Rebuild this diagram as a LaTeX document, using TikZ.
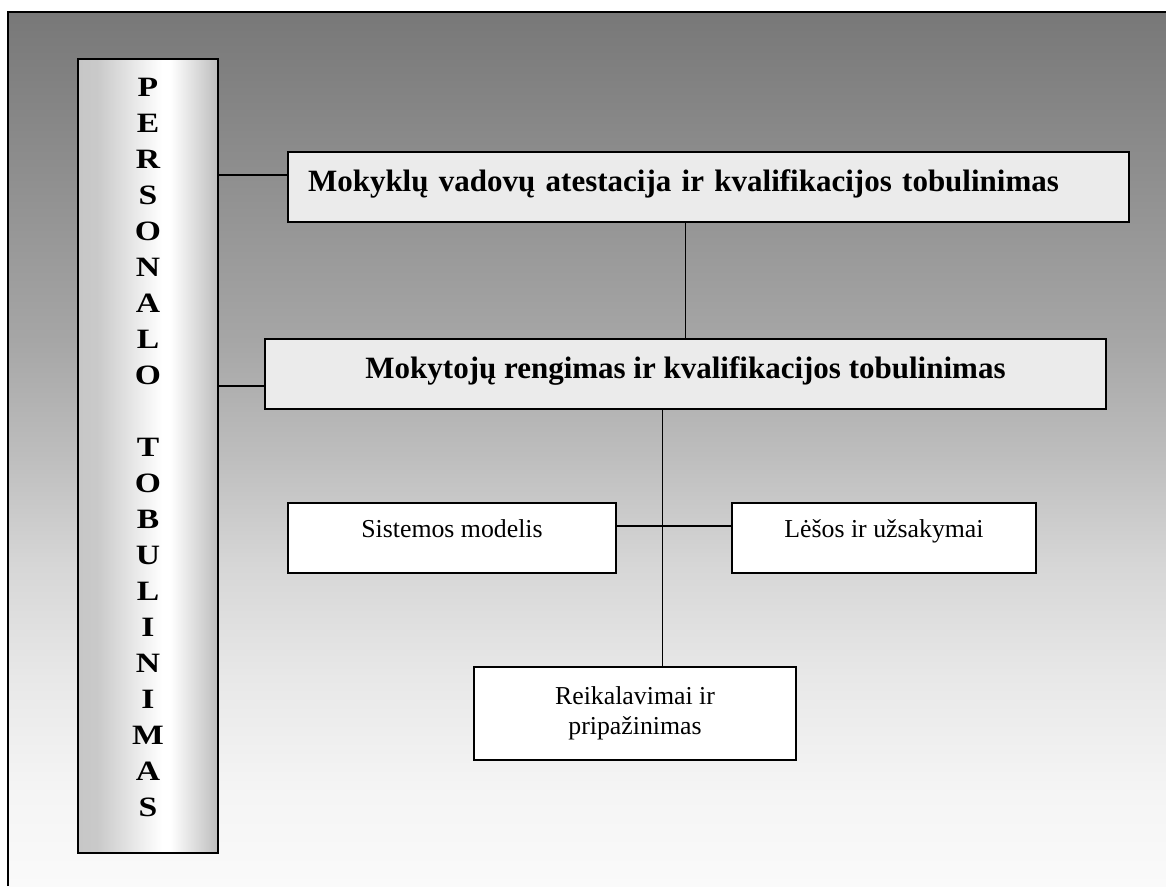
\documentclass[tikz,border=0pt]{standalone}
\usepackage{fontspec}
\setmainfont{Liberation Serif}
\newfontfamily\barfont[FakeStretch=1.2]{Liberation Serif}
\usetikzlibrary{calc}

\definecolor{boxgray}{HTML}{EBEBEB}
\pgfdeclarehorizontalshading{barshade}{100bp}{color(0bp)=(black!22); color(25bp)=(black!22); color(32bp)=(black!21); color(55bp)=(white); color(58bp)=(white); color(75bp)=(black!26); color(100bp)=(black!26)}
\pgfdeclareverticalshading{backshade}{100bp}{color(0bp)=(black!2); color(25bp)=(black!2); color(30.4bp)=(black!4); color(36.9bp)=(black!9); color(43.4bp)=(black!16); color(49.8bp)=(black!26); color(56.3bp)=(black!35); color(75bp)=(black!53); color(100bp)=(black!53)}

\begin{document}
\begin{tikzpicture}[x=1pt, y=-1pt,
            headbox/.style={
                draw,
                line width=1.6pt,
                fill=boxgray,
                inner ysep=0pt,
                text height=39pt,
                text depth=31pt,
                font=\fontsize{31}{36}\selectfont\bfseries
                },
            subbox/.style={
                draw,
                line width=1.4pt,
                fill=white,
                inner sep=0pt,
                font=\fontsize{25.8}{30}\selectfont
                },
            oneline/.style={
                text height=34pt,
                text depth=36pt
                },
            link/.style={
                draw,
                line width=1.3pt
                },
            barlink/.style={
                draw,
                line width=1.8pt
                }]

        \useasboundingbox (0,0) rectangle (1166,886);
        % background
        \shade[shading=backshade] (8,12) rectangle (1166,886);
        \draw[line width=1.4pt] (8,886) -- (8,12) -- (1166,12);

        \node[draw, line width=1.8pt, shade, shading=barshade, minimum width=140pt, minimum height=794pt] (bar) at (148,456) {};
        \node[font=\barfont\fontsize{28}{36}\selectfont\bfseries, align=center] (barletters) at ([yshift=9pt]bar.center)
            {P\\E\\R\\S\\O\\N\\A\\L\\O\\[36pt]T\\O\\B\\U\\L\\I\\N\\I\\M\\A\\S};

        \node[headbox, text width=801pt, inner xsep=20pt, align=left] (topbox) at (708.5,187.25) {Mokyklų vadovų atestacija ir kvalifikacijos tobulinimas};
        \node[headbox, minimum width=841pt] (midbox) at (685.5,374) {Mokytojų rengimas ir kvalifikacijos tobulinimas};

        \node[subbox, oneline, minimum width=328pt] (sysbox) at (452,538) {Sistemos modelis};
        \node[subbox, oneline, minimum width=304pt] (fundbox) at (884,538) {Lėšos ir užsakymai};
        \node[subbox, minimum width=322pt, minimum height=93pt, align=center] (reqbox) at (635,713.5) {Reikalavimai ir\\pripažinimas};

        \coordinate (topjoin) at ([yshift=12pt]topbox.west);
        \coordinate (midjoin) at ([yshift=-12pt]midbox.west);
        \coordinate (stem) at ([xshift=-23pt]midbox.south);
        \coordinate (branch) at ([yshift=12pt]sysbox.east);

        \draw[barlink] (topjoin) -- (topjoin -| bar.east);
        \draw[barlink] (midjoin) -- (midjoin -| bar.east);
        \draw[link] (midbox.north) -- (midbox.north |- topbox.south);
        \draw[link] (stem) -- (stem |- reqbox.north);
        \draw[link] (branch) -- (branch -| fundbox.west);

\end{tikzpicture}
\end{document}
